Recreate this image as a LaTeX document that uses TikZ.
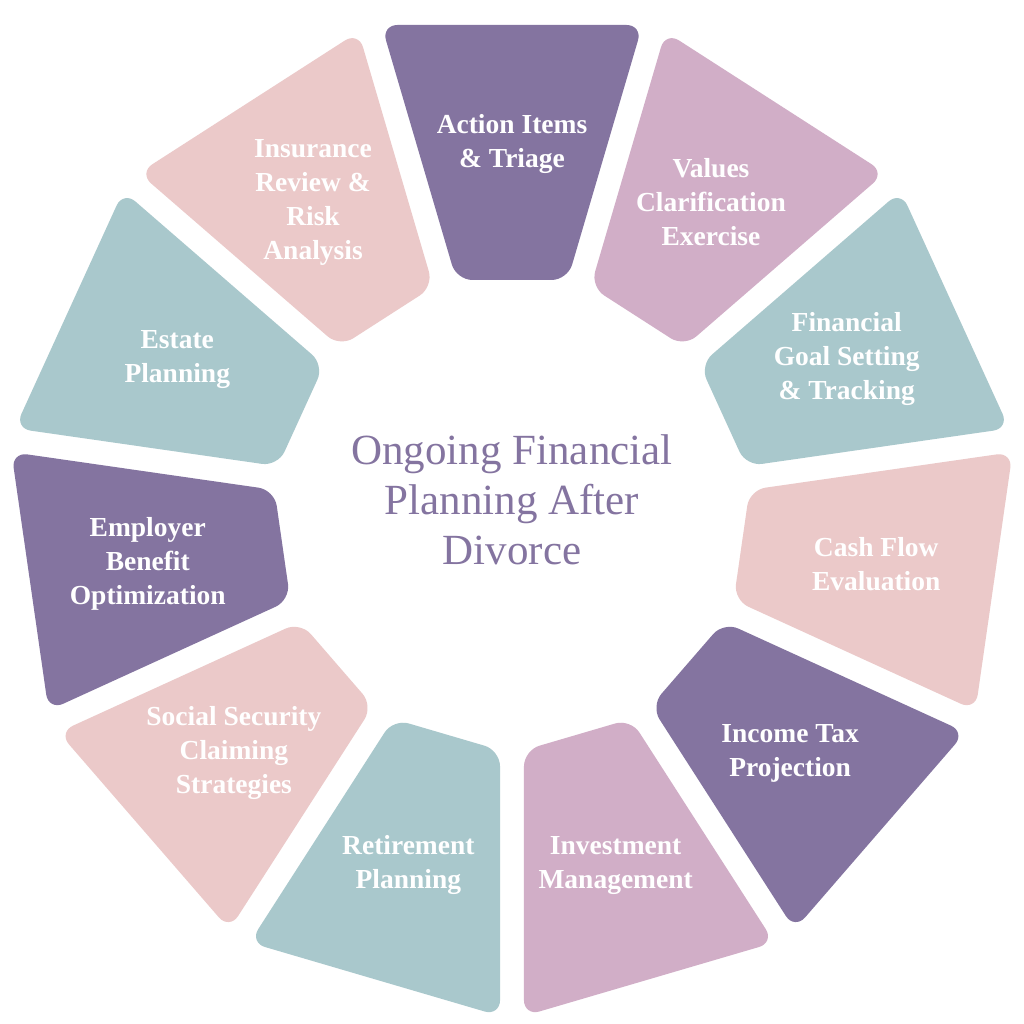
\documentclass[tikz,border=0pt]{standalone}
\usepackage{fontspec}
\setmainfont{Liberation Serif}
\begin{document}
\definecolor{cpur}{HTML}{8474A0}
\definecolor{clil}{HTML}{D1AEC7}
\definecolor{cteal}{HTML}{A9C8CC}
\definecolor{cpink}{HTML}{EBC9C9}
\begin{tikzpicture}[x=1pt,y=1pt,
  seg/.style={rounded corners=16pt},
  lab/.style={text=white,font=\bfseries\fontsize{27.5}{34}\selectfont,align=center}]
\useasboundingbox[fill=white] (-512,-512) rectangle (512,512);
\foreach \a/\c/\t [count=\i] in {
  90/cpur/Action Items\\\& Triage,
  57.27/clil/Values\\Clarification\\Exercise,
  24.55/cteal/Financial\\Goal Setting\\\& Tracking,
  -8.18/cpink/Cash Flow\\Evaluation,
  -40.91/cpur/Income Tax\\Projection,
  -73.64/clil/Investment\\Management,
  -106.36/cteal/Retirement\\Planning,
  -139.09/cpink/Social Security\\Claiming\\Strategies,
  -171.82/cpur/Employer\\Benefit\\Optimization,
  155.45/cteal/Estate\\Planning,
  122.73/cpink/Insurance\\Review \&\\Risk\\Analysis}{
  \begin{scope}[rotate=\a-90]
    \fill[\c,seg] (-130.5,487) -- (130.5,487) -- (55.6,232) -- (-55.6,232) -- cycle;
  \end{scope}
  \node[lab] (s\i) at (\a:368) {\t};
}
\node[text=cpur,font=\fontsize{43}{50}\selectfont,align=center] (c) at (0,12) {Ongoing Financial\\Planning After\\Divorce};
\end{tikzpicture}
\end{document}
